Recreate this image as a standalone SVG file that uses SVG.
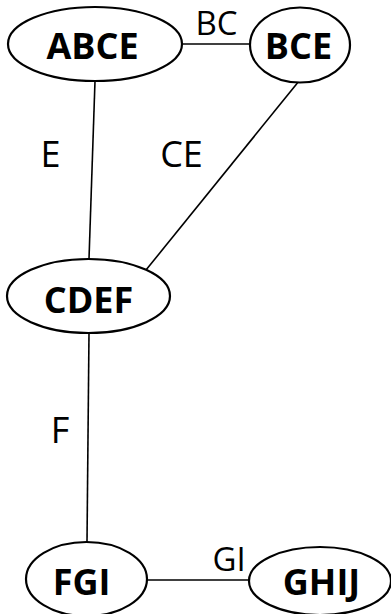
<svg xmlns="http://www.w3.org/2000/svg" width="391" height="614" viewBox="0 0 391 614">
  <style>
    .node ellipse { fill: #ffffff; stroke: #000000; stroke-width: 2.2; }
    .node text { font-family: "Open Sans", "Liberation Sans", sans-serif; font-weight: bold; font-size: 36px; text-anchor: middle; fill: #000000; }
    .edge line { stroke: #000000; stroke-width: 1.6; }
    .label { font-family: "Open Sans", "Liberation Sans", sans-serif; font-size: 36px; text-anchor: middle; fill: #000000; }
    .label.small { font-size: 33px; }
  </style>
  <rect width="391" height="614" fill="#ffffff"/>

  <!-- connectors -->
  <g id="edges" class="edge">
    <line x1="182" y1="44" x2="250" y2="44"/>
    <line x1="95" y1="81" x2="89" y2="259"/>
    <line x1="299" y1="81" x2="146" y2="270"/>
    <line x1="89" y1="333" x2="87" y2="542"/>
    <line x1="147" y1="580" x2="249" y2="580"/>
    <text class="label small" x="216.5" y="35">BC</text>
    <text class="label" x="50.5" y="167">E</text>
    <text class="label" x="181.5" y="167">CE</text>
    <text class="label" x="60" y="443">F</text>
    <text class="label small" x="229" y="571">GI</text>
  </g>

  <g id="node-ABCE" class="node">
    <ellipse cx="95" cy="44" rx="87" ry="37"/>
    <text x="92.5" y="59">ABCE</text>
  </g>
  <g id="node-BCE" class="node">
    <ellipse cx="300" cy="45" rx="50" ry="37.5"/>
    <text x="298.5" y="59">BCE</text>
  </g>
  <g id="node-CDEF" class="node">
    <ellipse cx="88.5" cy="296" rx="81.5" ry="37"/>
    <text x="88.5" y="313">CDEF</text>
  </g>
  <g id="node-FGI" class="node">
    <ellipse cx="86.5" cy="579" rx="60.5" ry="37"/>
    <text x="81.5" y="595">FGI</text>
  </g>
  <g id="node-GHIJ" class="node">
    <ellipse cx="320" cy="581" rx="71" ry="34"/>
    <text x="321.5" y="595">GHIJ</text>
  </g>
</svg>
